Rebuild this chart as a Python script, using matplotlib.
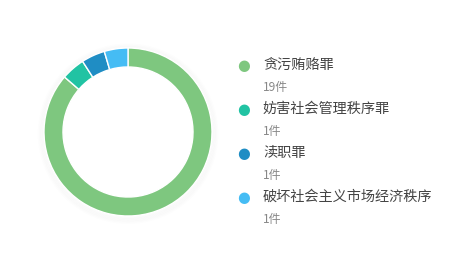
import matplotlib.pyplot as plt
from matplotlib.patches import Circle

plt.rcParams['font.family'] = ['Noto Sans CJK SC', 'DejaVu Sans']

# Data
categories = ['贪污贿赂罪', '妨害社会管理秩序罪', '渎职罪', '破坏社会主义市场经济秩序']
counts     = [19, 1, 1, 1]
colors     = ['#7EC77F', '#21C3A3', '#1F8DC4', '#45BCF4']

W, H = 471, 264
fig = plt.figure(figsize=(W / 100, H / 100), dpi=100)
fig.patch.set_facecolor('white')

# donut
cx, cy, r = 128, 132, 84
ax = fig.add_axes([(cx - r) / W, (H - cy - r) / H, 2 * r / W, 2 * r / H])
ax.axis('off')

# faint shadow under ring
for i in range(5):
    ax.add_patch(Circle((0, -0.02), 0.995 + 0.015 * i, fill=False, clip_on=False,
                        lw=2.5, ec='#000000', alpha=0.006, zorder=0))

ax.pie(counts, colors=colors, startangle=90, counterclock=False, radius=1.0,
       wedgeprops=dict(width=0.226, edgecolor='white', linewidth=1.0))
ax.set_xlim(-1, 1)
ax.set_ylim(-1, 1)

# legend
label_y = [66, 109, 153, 197]
for name, n, col, y in zip(categories, counts, colors, label_y):
    fig.text(244 / W, 1 - y / H, '●', color=col, fontsize=10.5,
             ha='center', va='center', family='DejaVu Sans')
    fig.text(263 / W, 1 - y / H, name, color='#444444', fontsize=10.2,
             ha='left', va='center')
    fig.text(263 / W, 1 - (y + 22) / H, f'{n}件', color='#888888', fontsize=8.6,
             ha='left', va='center')

fig.savefig('out.png', dpi=100, facecolor='white')
